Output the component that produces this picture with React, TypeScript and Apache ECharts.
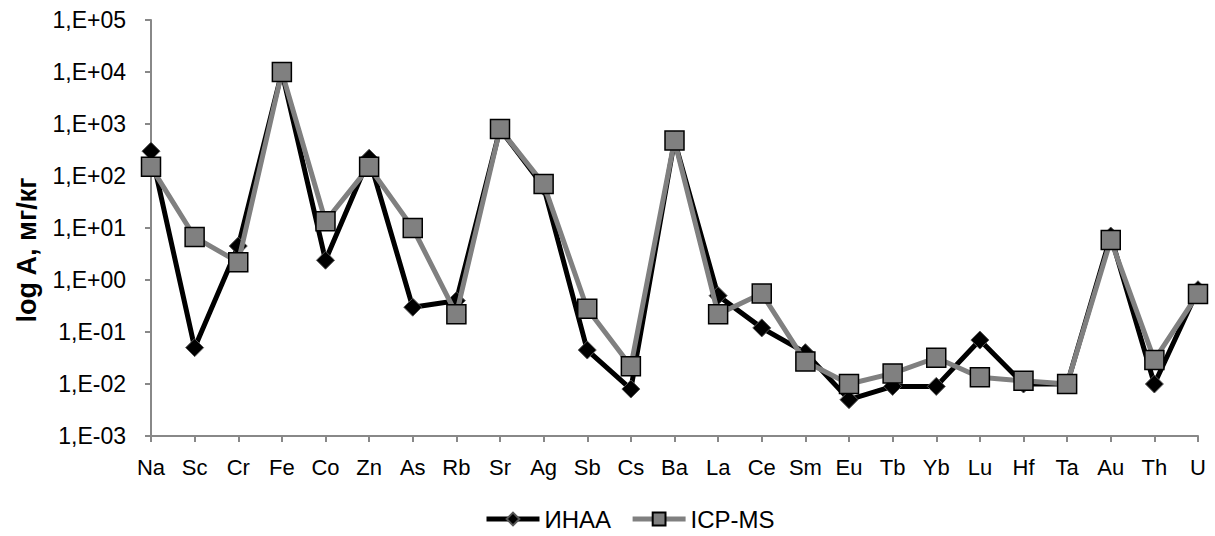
import React, { useEffect, useRef } from "react";
import * as echarts from "echarts";

const categories = ["Na","Sc","Cr","Fe","Co","Zn","As","Rb","Sr","Ag","Sb","Cs","Ba","La","Ce","Sm","Eu","Tb","Yb","Lu","Hf","Ta","Au","Th","U"];

const inaaValues = [300, 0.05, 4.5, 10000, 2.4, 220, 0.3, 0.4, 800, 62, 0.045, 0.008, 480, 0.5, 0.12, 0.04, 0.005, 0.009, 0.009, 0.07, 0.01, 0.01, 7, 0.01, 0.65];

const icpmsValues = [150, 6.7, 2.2, 10000, 13.5, 150, 10, 0.22, 800, 70, 0.28, 0.022, 480, 0.22, 0.55, 0.027, 0.01, 0.016, 0.032, 0.0135, 0.0115, 0.01, 5.9, 0.029, 0.54];

const yTickLabels = ["1,E-03","1,E-02","1,E-01","1,E+00","1,E+01","1,E+02","1,E+03","1,E+04","1,E+05"];

const seriesNames = ["ИНАА", "ICP-MS"];

const yAxisTitle = "log A, мг/кг";

const FONT = "'Liberation Sans', Arial, sans-serif";

export default function App() {
  const ref = useRef<HTMLDivElement>(null);
  useEffect(() => {
    if (!ref.current) return;
    const chart = echarts.init(ref.current, null, { renderer: "svg" });
    chart.setOption({
      animation: false,
      backgroundColor: "#ffffff",
      grid: { left: 151, right: 17, top: 20, bottom: 100, containLabel: false },
      legend: {
        left: 479,
        top: 502,
        itemWidth: 53,
        itemHeight: 16,
        itemGap: 19,
        lineStyle: { width: 5 },
        textStyle: { fontSize: 24, lineHeight: 22, color: "#000", fontFamily: FONT },
        data: seriesNames,
      },
      graphic: [
        {
          type: "text",
          x: 27,
          y: 250,
          rotation: Math.PI / 2,
          style: {
            text: yAxisTitle,
            fontSize: 27,
            fontWeight: "bold",
            fill: "#000",
            fontFamily: FONT,
            textAlign: "center",
            textVerticalAlign: "middle",
          },
        },
      ],
      xAxis: {
        type: "category",
        data: categories,
        boundaryGap: false,
        axisLine: { lineStyle: { color: "#888888", width: 2 } },
        axisTick: { show: true, inside: false, length: 6, interval: 0, lineStyle: { color: "#888888", width: 2 } },
        axisLabel: { interval: 0, margin: 20, fontSize: 22, color: "#000", fontFamily: FONT },
        splitLine: { show: false },
      },
      yAxis: {
        type: "log",
        logBase: 10,
        min: 0.001,
        max: 100000,
        axisLine: { show: true, lineStyle: { color: "#888888", width: 2 } },
        axisTick: { show: true, length: 6, lineStyle: { color: "#888888", width: 2 } },
        splitLine: { show: false },
        axisLabel: {
          margin: 25,
          fontSize: 23,
          color: "#000",
          fontFamily: FONT,
          formatter: (v: number) => {
            const e = Math.round(Math.log10(v));
            return yTickLabels[e + 3] ?? "";
          },
        },
      },
      series: [
        {
          name: seriesNames[0],
          type: "line",
          data: inaaValues,
          symbol: "diamond",
          symbolSize: 18,
          lineStyle: { color: "#000000", width: 5 },
          itemStyle: { color: "#000000", borderColor: "#555555", borderWidth: 1 },
          z: 2,
        },
        {
          name: seriesNames[1],
          type: "line",
          data: icpmsValues,
          symbol: "rect",
          symbolSize: 19,
          lineStyle: { color: "#808080", width: 5 },
          itemStyle: { color: "#808080", borderColor: "#000000", borderWidth: 1.5 },
          z: 3,
        },
      ],
    });
    return () => chart.dispose();
  }, []);
  return <div ref={ref} style={{ position: "fixed", left: 0, top: 0, width: 1215, height: 536 }} />;
}
